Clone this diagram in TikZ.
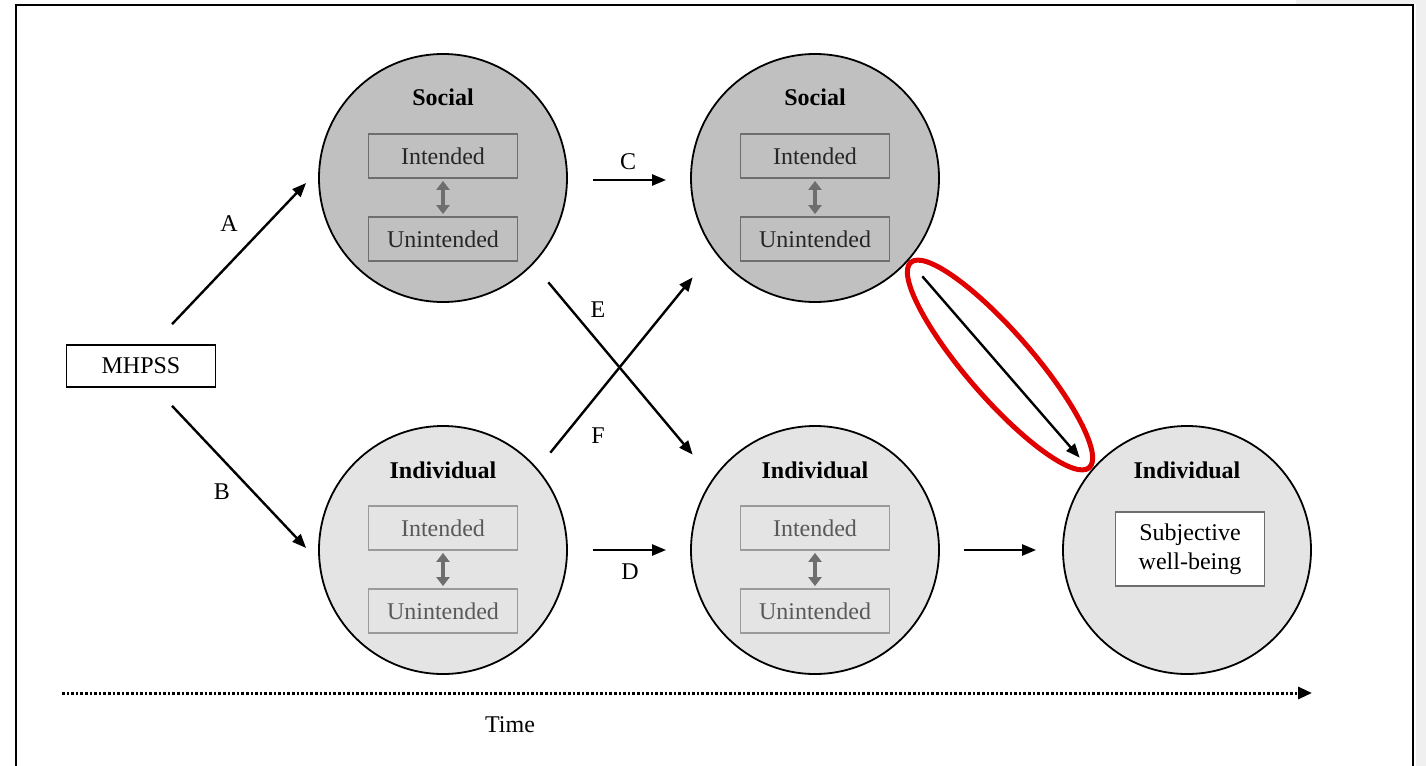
\documentclass[tikz,border=0pt]{standalone}
\usepackage{fontspec}
\setmainfont{Liberation Serif}
\usepackage{tikz}
\usetikzlibrary{arrows.meta,calc}

\definecolor{socfill}{HTML}{C0C0C0}
\definecolor{indfill}{HTML}{E4E4E4}
\definecolor{socline}{HTML}{6E6E6E}
\definecolor{indline}{HTML}{9A9A9A}
\definecolor{marker}{HTML}{E00000}
\definecolor{pagegray}{HTML}{F0F0F0}

\begin{document}
\begin{tikzpicture}[x=0.5pt,y=-0.5pt,
  every node/.style={font=\fontsize{12}{14.5}\selectfont},
  blob/.style={circle,draw,line width=0.9pt,minimum size=124pt,inner sep=0pt},
  title/.style={font=\fontsize{12}{14.5}\selectfont\bfseries},
  socbox/.style={draw=socline,line width=0.9pt,minimum width=74.5pt,minimum height=22pt,text=black!85},
  indbox/.style={draw=indline,line width=0.9pt,minimum width=74.5pt,minimum height=22pt,text=black!65},
  link/.style={-{Triangle[length=7pt,width=5.5pt]},line width=1.2pt},
  twoway/.style={{Triangle[length=4.5pt,width=6.5pt]}-{Triangle[length=4.5pt,width=6.5pt]},line width=2pt,draw=socline,shorten <=1pt,shorten >=1pt}]
\useasboundingbox (0,0) rectangle (1426,766);
\fill[pagegray] (1416,0) rectangle (1426,766);
\fill[pagegray] (1296,0) rectangle (1426,4);
\draw[line width=1pt] (15.5,766) -- (15.5,5) -- (1413,5) -- (1413,766);

% circles
\node[blob,fill=socfill] (soc1) at (443,178) {};
\node[blob,fill=socfill] (soc2) at (815,178) {};
\node[blob,fill=indfill] (ind1) at (443,550) {};
\node[blob,fill=indfill] (ind2) at (815,550) {};
\node[blob,fill=indfill] (ind3) at (1187,550) {};

\node[title] (t1) at (443,97) {Social};
\node[title] (t2) at (815,97) {Social};
\node[title] (t3) at (443,470) {Individual};
\node[title] (t4) at (815,470) {Individual};
\node[title] (t5) at (1187,470) {Individual};

% intended / unintended
\node[socbox] (si1) at (443,156) {Intended};
\node[socbox] (su1) at (443,239) {Unintended};
\node[socbox] (si2) at (815,156) {Intended};
\node[socbox] (su2) at (815,239) {Unintended};
\node[indbox] (ii1) at (443,528) {Intended};
\node[indbox] (iu1) at (443,611) {Unintended};
\node[indbox] (ii2) at (815,528) {Intended};
\node[indbox] (iu2) at (815,611) {Unintended};
\draw[twoway] (si1) -- (su1);
\draw[twoway] (si2) -- (su2);
\draw[twoway] (ii1) -- (iu1);
\draw[twoway] (ii2) -- (iu2);

\node[draw=socline,line width=0.9pt,fill=white,minimum width=74.5pt,minimum height=37pt,align=center] (swb) at (1190,549) {Subjective\\well-being};

\node[draw,line width=0.8pt,minimum width=74.5pt,minimum height=21pt] (mhpss) at (141,366) {MHPSS};

% paths
\draw[link] ([shift={(15.5pt,10pt)}]mhpss.north) -- ([shift={(-6pt,-2.5pt)}]soc1.west);
\draw[link] ([shift={(15.5pt,-9pt)}]mhpss.south) -- ([shift={(-6pt,1pt)}]ind1.west);
\draw[link] ([shift={(12.5pt,-1pt)}]soc1.east) -- ([shift={(-12pt,-1pt)}]soc2.west);
\draw[link] ([xshift=12.5pt]ind1.east) -- ([xshift=-12pt]ind2.west);
\draw[link] ([xshift=12pt]ind2.east) -- ([xshift=-13pt]ind3.west);
\draw[link] ([shift={(8.5pt,-8pt)}]soc1.-45) -- ([shift={(-17pt,3.5pt)}]ind2.135);
\draw[link] ([shift={(9.5pt,4.5pt)}]ind1.45) -- ([shift={(-17pt,-5.5pt)}]soc2.-135);
\draw[link] ([shift={(9.5pt,-5pt)}]soc2.-45) -- ([shift={(-9.5pt,2pt)}]ind3.135);

\node (la) at (229,224) {A};
\node (lb) at (222,492) {B};
\node (lc) at (628,162) {C};
\node (ld) at (630,572) {D};
\node (le) at (598,310) {E};
\node (lf) at (598,436) {F};

% highlight
\draw[marker,line width=2.5pt,shift={(1000,365)},rotate=-49] (0,0) ellipse [x radius=136,y radius=33];

% time axis
\coordinate (t0) at (62,693);
\coordinate (t9) at (1312,693);
\draw[-{Triangle[length=7pt,width=6pt]},line width=1.5pt,dash pattern=on 1.3pt off 1pt] (t0) -- (t9);
\node (time) at (510,725) {Time};
\end{tikzpicture}
\end{document}
